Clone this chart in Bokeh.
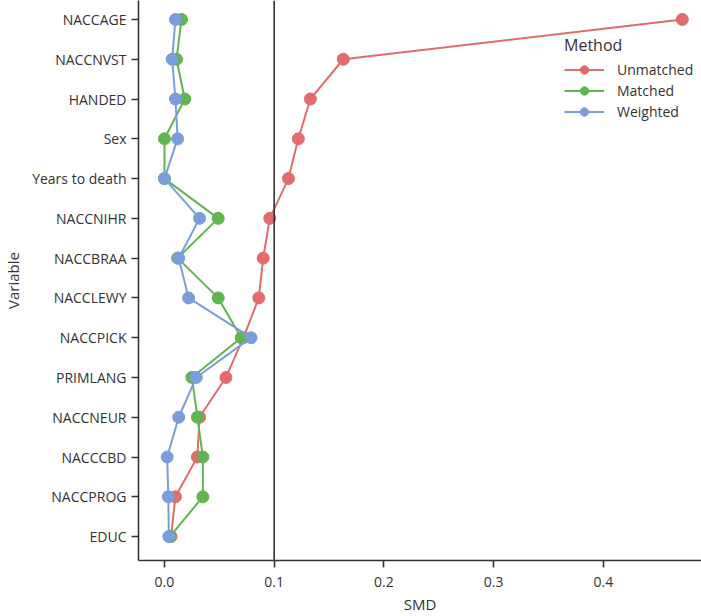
from bokeh.plotting import figure
from bokeh.models import Range1d, Span, FixedTicker
from bokeh.embed import file_html
from bokeh.resources import INLINE

categories = ["NACCAGE", "NACCNVST", "HANDED", "Sex", "Years to death", "NACCNIHR",
              "NACCBRAA", "NACCLEWY", "NACCPICK", "PRIMLANG", "NACCNEUR", "NACCCBD",
              "NACCPROG", "EDUC"]
unmatched = [0.472, 0.163, 0.133, 0.122, 0.113, 0.096, 0.090, 0.086, 0.072, 0.056,
             0.032, 0.030, 0.010, 0.006]
matched = [0.0155, 0.011, 0.0185, 0.0, 0.0, 0.049, 0.012, 0.049, 0.070, 0.025,
           0.030, 0.035, 0.035, 0.005]
weighted = [0.010, 0.007, 0.010, 0.012, 0.0, 0.032, 0.013, 0.022, 0.079, 0.029,
            0.013, 0.0025, 0.0035, 0.004]
x_ticks = [0.0, 0.1, 0.2, 0.3, 0.4]
threshold = 0.1

series = [("Unmatched", unmatched, "#E06C6C"),
          ("Matched", matched, "#62B450"),
          ("Weighted", weighted, "#7A9EDC")]

n = len(categories)
ypos = [n - 1 - i for i in range(n)]

FONT = "Open Sans"
TXT = "#333333"

p = figure(width=701, height=616, output_backend="svg", toolbar_location=None,
           x_range=Range1d(-0.02366, 0.4895), y_range=Range1d(-0.602, 13.477),
           min_border_left=137, min_border_right=0, min_border_top=0,
           min_border_bottom=55)
p.outline_line_color = None
p.xgrid.visible = False
p.ygrid.visible = False

p.add_layout(Span(location=threshold, dimension="height", line_color="#333333",
                  line_width=1.6))

for name, vals, col in series:
    p.line(vals, ypos, line_color=col, line_width=2, legend_label=name)
    p.scatter(vals, ypos, size=12, fill_color=col, line_color=col, legend_label=name)

p.xaxis.ticker = FixedTicker(ticks=x_ticks)
p.xaxis.major_label_overrides = {t: f"{t:.1f}" for t in x_ticks}
p.yaxis.ticker = FixedTicker(ticks=ypos)
p.yaxis.major_label_overrides = {y: c for y, c in zip(ypos, categories)}
p.xaxis.axis_label = "SMD"
p.yaxis.axis_label = "Variable"

for ax in (p.xaxis, p.yaxis):
    ax.axis_line_color = "#333333"
    ax.axis_line_width = 1.6
    ax.major_tick_line_color = "#333333"
    ax.major_tick_line_width = 1.6
    ax.major_tick_in = 0
    ax.major_tick_out = 7
    ax.minor_tick_line_color = None
    ax.major_label_text_font = FONT
    ax.major_label_text_font_size = "14px"
    ax.major_label_text_color = TXT
    ax.axis_label_text_font = FONT
    ax.axis_label_text_font_size = "15px"
    ax.axis_label_text_font_style = "normal"
    ax.axis_label_text_color = TXT

p.xaxis.major_label_standoff = 9
p.xaxis.axis_label_standoff = 4
p.yaxis.major_label_standoff = 5
p.yaxis.axis_label_standoff = 6

leg = p.legend[0]
leg.title = "Method"
leg.title_text_font = FONT
leg.title_text_font_size = "16px"
leg.title_text_font_style = "normal"
leg.title_text_color = TXT
leg.title_standoff = 3
leg.label_text_font = FONT
leg.label_text_font_size = "14px"
leg.label_text_color = TXT
leg.glyph_width = 40
leg.glyph_height = 21
leg.label_height = 21
leg.label_standoff = 13
leg.spacing = 0
leg.padding = 0
leg.margin = 0
leg.border_line_color = None
leg.background_fill_alpha = 0
leg.location = (426, 438)

open("out.html", "w").write(file_html(p, INLINE))
